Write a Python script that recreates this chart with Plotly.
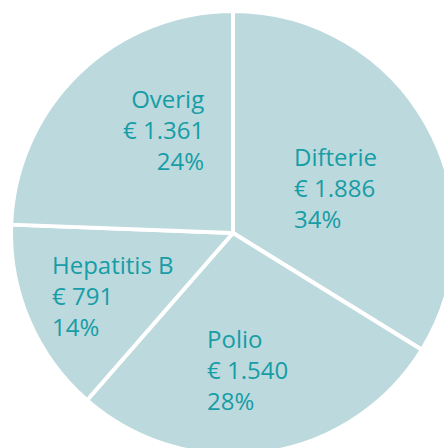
import plotly.graph_objects as go

categories = ["Difterie", "Polio", "Hepatitis B", "Overig"]
amounts = [1886, 1540, 791, 1361]
amount_labels = ["€ 1.886", "€ 1.540", "€ 791", "€ 1.361"]
percent_labels = ["34%", "28%", "14%", "24%"]

W, H = 460, 460
FILL = "#bcd9dd"
TEXT = "#179da6"

fig = go.Figure()
fig.add_trace(go.Pie(
    labels=categories,
    values=amounts,
    sort=False,
    direction="clockwise",
    rotation=0,
    textinfo="none",
    hoverinfo="skip",
    marker=dict(colors=[FILL] * len(categories), line=dict(color="white", width=4)),
    domain=dict(x=[11 / W, 455 / W], y=[1 - 455 / H, 1 - 11 / H]),
    showlegend=False,
))

# label placement (pixel x, pixel y of middle line, anchor)
label_pos = {
    "Difterie": (292, 187, "left"),
    "Polio": (205, 369, "left"),
    "Hepatitis B": (50, 295, "left"),
    "Overig": (206, 129, "right"),
}

for cat, amt, pct in zip(categories, amount_labels, percent_labels):
    px, py, anc = label_pos[cat]
    fig.add_annotation(
        x=px / W, y=1 - py / H, xref="paper", yref="paper",
        xanchor=anc, yanchor="middle", align=anc,
        text=f"{cat}<br>{amt}<br>{pct}",
        showarrow=False,
        font=dict(family="Open Sans", size=24, color=TEXT),
    )

fig.update_layout(
    width=W, height=H,
    margin=dict(l=0, r=0, t=0, b=0),
    paper_bgcolor="white",
    plot_bgcolor="white",
)

fig.write_html(
    "out.html",
    config={"displayModeBar": False},
    post_script="document.body.style.margin='0';document.body.style.overflow='hidden';",
)
